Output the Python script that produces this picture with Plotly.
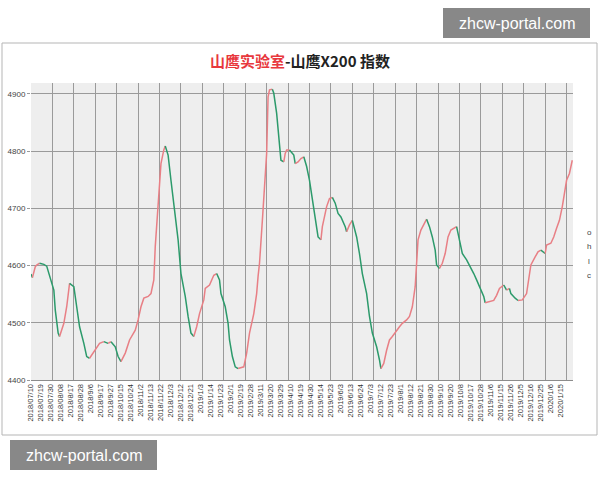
import plotly.graph_objects as go

# ---- data ----
tick_labels = [
    "2018/07/10", "2018/07/19", "2018/07/30", "2018/08/08", "2018/8/17", "2018/08/28",
    "2018/9/6", "2018/9/17", "2018/9/27", "2018/10/15", "2018/10/24", "2018/11/2",
    "2018/11/13", "2018/11/22", "2018/12/3", "2018/12/12", "2018/12/21", "2019/1/3",
    "2019/1/14", "2019/1/23", "2019/2/1", "2019/2/19", "2019/2/28", "2019/3/11",
    "2019/3/20", "2019/3/29", "2019/4/10", "2019/4/19", "2019/4/30", "2019/5/14",
    "2019/5/23", "2019/6/3", "2019/6/13", "2019/6/24", "2019/7/3", "2019/7/12",
    "2019/7/23", "2019/8/1", "2019/8/12", "2019/8/21", "2019/8/30", "2019/9/10",
    "2019/9/20", "2019/10/8", "2019/10/17", "2019/10/28", "2019/11/6", "2019/11/15",
    "2019/11/26", "2019/12/5", "2019/12/16", "2019/12/25", "2020/1/6", "2020/1/15",
]
label_step = 7      # trading days between labels
grid_step = 15      # trading days between vertical grid lines

day_index = [
    0, 1, 3, 4, 6, 9, 11, 13, 16, 17, 19, 20, 23, 25, 27, 30, 32, 34, 37, 39,
    41, 44, 46, 48, 51, 54, 56, 59, 61, 63, 66, 69, 73, 75, 77, 79, 82, 84, 86, 87,
    89, 91, 93, 94, 96, 98, 101, 103, 105, 108, 110, 112, 114, 116, 118, 121, 122, 125, 128, 130,
    132, 133, 136, 138, 139, 141, 143, 145, 149, 151, 153, 156, 158, 159, 160, 162, 164, 165, 166, 167,
    169, 170, 172, 173, 174, 175, 177, 178, 179, 181, 184, 185, 187, 189, 191, 193, 195, 197, 199, 201,
    203, 204, 207, 209, 211, 213, 215, 217, 220, 221, 223, 225, 228, 230, 232, 235, 237, 239, 242, 244,
    245, 247, 249, 251, 253, 256, 258, 260, 263, 265, 267, 269, 270, 271, 273, 276, 277, 279, 281, 283,
    284, 286, 288, 290, 292, 294, 298, 300, 302, 305, 307, 310, 312, 314, 317, 318, 321, 324, 326, 328,
    331, 333, 335, 336, 339, 341, 344, 347, 349, 350, 353, 355, 357, 360, 361, 364, 366, 368, 370, 372,
    374, 375, 377, 379,
]
index_values = [
    4585, 4579, 4598, 4601, 4604, 4602, 4599, 4581, 4557, 4522, 4482, 4476, 4499, 4528, 4569, 4563, 4528, 4493, 4464, 4441,
    4438, 4450, 4458, 4464, 4467, 4464, 4467, 4458, 4441, 4432, 4447, 4470, 4487, 4505, 4528, 4543, 4546, 4551, 4575, 4633,
    4703, 4778, 4802, 4809, 4793, 4749, 4691, 4645, 4586, 4546, 4511, 4482, 4476, 4493, 4516, 4540, 4560, 4566, 4583, 4586,
    4575, 4551, 4528, 4499, 4470, 4441, 4423, 4420, 4423, 4447, 4482, 4516, 4551, 4581, 4604, 4679, 4749, 4796, 4895, 4907,
    4908, 4901, 4866, 4837, 4808, 4784, 4781, 4796, 4802, 4802, 4793, 4778, 4781, 4787, 4790, 4773, 4749, 4714, 4679, 4650,
    4645, 4668, 4703, 4717, 4719, 4709, 4691, 4685, 4668, 4659, 4671, 4679, 4650, 4621, 4586, 4551, 4511, 4482, 4458, 4435,
    4420, 4429, 4452, 4470, 4476, 4487, 4493, 4499, 4505, 4511, 4528, 4563, 4598, 4645, 4662, 4677, 4681, 4668, 4650, 4627,
    4601, 4595, 4604, 4621, 4650, 4662, 4668, 4645, 4621, 4610, 4601, 4586, 4575, 4563, 4546, 4535, 4537, 4539, 4548, 4560,
    4566, 4557, 4560, 4551, 4543, 4539, 4540, 4551, 4586, 4601, 4615, 4624, 4627, 4621, 4636, 4639, 4650, 4665, 4679, 4703,
    4738, 4749, 4761, 4784,
]
legend_letters = ["o", "h", "l", "c"]

UP = "#e87f85"
DOWN = "#2c9a6b"

fig = go.Figure()

# split the series into rising (red) and falling (green) runs
runs = []
cur_color = None
cur = []
for k in range(len(day_index) - 1):
    col = UP if index_values[k + 1] >= index_values[k] else DOWN
    if col != cur_color:
        if cur:
            runs.append((cur_color, cur))
        cur = [k]
        cur_color = col
    cur.append(k + 1)
runs.append((cur_color, cur))

for col, idxs in runs:
    fig.add_trace(go.Scatter(
        x=[day_index[i] for i in idxs],
        y=[index_values[i] for i in idxs],
        mode="lines",
        line=dict(color=col, width=1.5),
        showlegend=False,
        hoverinfo="skip",
    ))

tick_vals = [label_step * k for k in range(len(tick_labels))]

fig.update_layout(
    width=600, height=480,
    margin=dict(l=31, r=27, t=83, b=100),
    paper_bgcolor="white",
    plot_bgcolor="#eeeeee",
    showlegend=False,
    font=dict(family="Liberation Sans, Arial, sans-serif", color="#444"),
    xaxis=dict(
        range=[0, 379.5],
        tickmode="array",
        tickvals=tick_vals,
        ticktext=tick_labels,
        tickangle=-90,
        tickfont=dict(size=7.5, color="#333"),
        showgrid=False,
        zeroline=False,
        showline=True,
        linecolor="#8c8c8c",
        linewidth=1,
        ticks="",
        automargin=False,
        minor=dict(tickmode="linear", tick0=0, dtick=grid_step,
                   showgrid=True, gridcolor="#9a9a9a", gridwidth=1),
    ),
    yaxis=dict(
        range=[4400, 4919],
        tickmode="linear", tick0=4400, dtick=100,
        tickfont=dict(size=8, color="#444"),
        showgrid=True, gridcolor="#9a9a9a", gridwidth=1,
        zeroline=False,
        showline=False,
        automargin=False,
        ticks="outside", ticklen=3, tickcolor="#9a9a9a",
    ),
)

def px_x(p):
    return (p - 31) / 542.0

def px_y(p):
    return (380 - p) / 297.0

# outer chart border
fig.add_shape(type="rect", xref="paper", yref="paper",
              x0=px_x(2), x1=px_x(597), y0=px_y(435), y1=px_y(43),
              line=dict(color="#b5b5b5", width=1), fillcolor="rgba(0,0,0,0)", layer="below")

# title
fig.add_annotation(
    xref="paper", yref="paper", x=px_x(300), y=px_y(60),
    xanchor="center", yanchor="middle", showarrow=False,
    text="<b><span style='color:#e8383d'>山鹰实验室</span>-山鹰X200 指数</b>",
    font=dict(family="Noto Sans CJK SC", size=15, color="#222"),
)

# o h l c legend letters
for n, letter in enumerate(legend_letters):
    fig.add_annotation(
        xref="paper", yref="paper", x=px_x(589), y=px_y(232 + 14.5 * n),
        xanchor="center", yanchor="middle", showarrow=False,
        text=letter, font=dict(size=8, color="#444"),
    )

# site watermarks
for (x0, x1, y0, y1) in [(443, 590, 8, 38), (10, 157, 440, 470)]:
    fig.add_shape(type="rect", xref="paper", yref="paper",
                  x0=px_x(x0), x1=px_x(x1), y0=px_y(y1), y1=px_y(y0),
                  line=dict(width=0), fillcolor="rgba(120,120,120,0.88)", layer="above")
    fig.add_annotation(
        xref="paper", yref="paper", x=px_x((x0 + x1) / 2), y=px_y((y0 + y1) / 2),
        xanchor="center", yanchor="middle", showarrow=False,
        text="zhcw-portal.com",
        font=dict(family="Liberation Sans, Arial, sans-serif", size=16, color="white"),
    )

fig.write_html("out.html", config={"displayModeBar": False},
               post_script="document.body.style.margin='0';")
